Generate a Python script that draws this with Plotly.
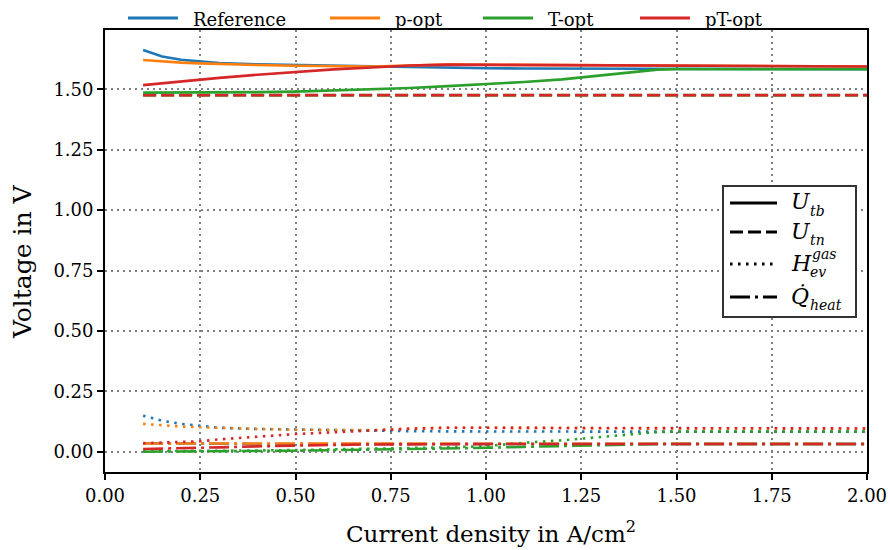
import plotly.graph_objects as go

# ---- data -------------------------------------------------------------
current_density = [0.1, 0.15, 0.2, 0.25, 0.3, 0.4, 0.5, 0.6, 0.7, 0.8,
                   0.9, 1.0, 1.1, 1.2, 1.3, 1.4, 1.45, 1.5, 1.75, 2.0]

cases = ["Reference", "p-opt", "T-opt", "pT-opt"]

U_tb = {
    "Reference": [1.662, 1.635, 1.622, 1.614, 1.608, 1.603, 1.600, 1.596, 1.593, 1.590,
                  1.588, 1.587, 1.586, 1.586, 1.585, 1.585, 1.584, 1.584, 1.583, 1.583],
    "p-opt":     [1.621, 1.614, 1.610, 1.607, 1.604, 1.600, 1.597, 1.595, 1.594, 1.598,
                  1.602, 1.601, 1.600, 1.600, 1.599, 1.599, 1.598, 1.598, 1.596, 1.594],
    "T-opt":     [1.486, 1.486, 1.487, 1.487, 1.487, 1.488, 1.490, 1.494, 1.499, 1.505,
                  1.513, 1.521, 1.530, 1.541, 1.557, 1.574, 1.581, 1.583, 1.583, 1.583],
    "pT-opt":    [1.517, 1.525, 1.533, 1.541, 1.547, 1.560, 1.572, 1.582, 1.590, 1.598,
                  1.602, 1.601, 1.600, 1.600, 1.599, 1.599, 1.598, 1.598, 1.596, 1.594],
}
U_tn = {
    "Reference": [1.476] * 20,
    "p-opt":     [1.476] * 20,
    "T-opt":     [1.475] * 20,
    "pT-opt":    [1.475] * 20,
}
H_ev = {
    "Reference": [0.150, 0.129, 0.116, 0.107, 0.100, 0.095, 0.092, 0.089, 0.087, 0.086,
                  0.085, 0.084, 0.084, 0.084, 0.084, 0.084, 0.084, 0.084, 0.084, 0.084],
    "p-opt":     [0.116, 0.110, 0.105, 0.102, 0.099, 0.095, 0.092, 0.090, 0.090, 0.096,
                  0.100, 0.100, 0.099, 0.098, 0.098, 0.098, 0.098, 0.097, 0.097, 0.097],
    "T-opt":     [0.003, 0.003, 0.004, 0.004, 0.005, 0.006, 0.008, 0.010, 0.012, 0.015,
                  0.019, 0.024, 0.038, 0.048, 0.062, 0.075, 0.082, 0.084, 0.084, 0.084],
    "pT-opt":    [0.036, 0.038, 0.041, 0.044, 0.052, 0.064, 0.074, 0.081, 0.089, 0.096,
                  0.100, 0.100, 0.099, 0.098, 0.098, 0.098, 0.098, 0.097, 0.097, 0.097],
}
Q_heat = {
    "Reference": [0.036, 0.035, 0.035, 0.034, 0.034, 0.033, 0.033, 0.033, 0.033, 0.033,
                  0.033, 0.033, 0.033, 0.033, 0.033, 0.033, 0.033, 0.033, 0.033, 0.033],
    "p-opt":     [0.035, 0.035, 0.034, 0.034, 0.034, 0.033, 0.033, 0.033, 0.033, 0.033,
                  0.033, 0.033, 0.033, 0.033, 0.033, 0.033, 0.033, 0.033, 0.033, 0.033],
    "T-opt":     [0.001, 0.001, 0.002, 0.002, 0.003, 0.004, 0.005, 0.007, 0.009, 0.011,
                  0.014, 0.017, 0.021, 0.025, 0.029, 0.032, 0.033, 0.033, 0.033, 0.033],
    "pT-opt":    [0.012, 0.013, 0.014, 0.016, 0.019, 0.023, 0.027, 0.029, 0.031, 0.032,
                  0.033, 0.033, 0.033, 0.033, 0.033, 0.033, 0.033, 0.033, 0.033, 0.033],
}

x_ticks = [0.0, 0.25, 0.5, 0.75, 1.0, 1.25, 1.5, 1.75, 2.0]
y_ticks = [0.0, 0.25, 0.5, 0.75, 1.0, 1.25, 1.5]
x_title = "Current density in A/cm<sup>2</sup>"
y_title = "Voltage in V"

# ---- style ------------------------------------------------------------
colors = {"Reference": "#1f77b4", "p-opt": "#ff7f0e", "T-opt": "#2ca02c", "pT-opt": "#d62728"}
dashes = {"U_tb": "solid", "U_tn": "13px,5px", "H_ev": "2.5px,5.5px", "Q_heat": "20px,5px,3px,5px"}
series = [("U_tb", U_tb), ("U_tn", U_tn), ("H_ev", H_ev), ("Q_heat", Q_heat)]
FONT = "DejaVu Serif"
LW = 2.6

# plot-area geometry (pixels) used for placing the hand-made legends / titles
L, R, T, B = 105, 867, 30, 472
def px(xp):
    return (xp - L) / (R - L)
def py(yp):
    return (B - yp) / (B - T)

fig = go.Figure()

for case in cases:
    for key, data in series:
        fig.add_trace(go.Scatter(
            x=current_density, y=data[case], mode="lines",
            line=dict(color=colors[case], width=LW, dash=dashes[key]),
            showlegend=False, hoverinfo="skip"))

shapes = []
annotations = []

# axis titles
annotations.append(dict(xref="paper", yref="paper", x=px(491), y=py(532),
                        xanchor="center", yanchor="middle", showarrow=False,
                        text=x_title, font=dict(family=FONT, size=23, color="black")))
annotations.append(dict(xref="paper", yref="paper", x=px(22), y=py(262),
                        xanchor="center", yanchor="middle", showarrow=False, textangle=-90,
                        text=y_title, font=dict(family=FONT, size=25, color="black")))

# colour legend above the axes
top_line_x = [128, 330, 483, 640]
for case, x0 in zip(cases, top_line_x):
    shapes.append(dict(type="line", xref="paper", yref="paper",
                       x0=px(x0), x1=px(x0 + 50), y0=py(18), y1=py(18),
                       line=dict(color=colors[case], width=3)))
    annotations.append(dict(xref="paper", yref="paper", x=px(x0 + 63), y=py(19),
                            xanchor="left", yanchor="middle", showarrow=False,
                            text=case, font=dict(family=FONT, size=18, color="black")))

# line-style legend box
shapes.append(dict(type="rect", xref="paper", yref="paper",
                   x0=px(723), x1=px(856), y0=py(186), y1=py(317),
                   fillcolor="white", line=dict(color="#333333", width=2), layer="above"))
rows = [("U_tb", 203, "U", "tb", None),
        ("U_tn", 232, "U", "tn", None),
        ("H_ev", 264, "H", "ev", "gas"),
        ("Q_heat", 297, "Q̇", "heat", None)]
for key, yrow, main, sub, sup in rows:
    shapes.append(dict(type="line", xref="paper", yref="paper",
                       x0=px(730), x1=px(777), y0=py(yrow), y1=py(yrow),
                       line=dict(color="black", width=3, dash=dashes[key]), layer="above"))
    annotations.append(dict(xref="paper", yref="paper", x=px(790), y=py(yrow - 1),
                            xanchor="left", yanchor="middle", showarrow=False,
                            text=f"<i>{main}</i>", borderpad=0,
                            font=dict(family=FONT, size=22, color="black")))
    annotations.append(dict(xref="paper", yref="paper", x=px(809), y=py(yrow + 8),
                            xanchor="left", yanchor="middle", showarrow=False,
                            text=f"<i>{sub}</i>", borderpad=0,
                            font=dict(family=FONT, size=14, color="black")))
    if sup:
        annotations.append(dict(xref="paper", yref="paper", x=px(811), y=py(yrow - 10),
                                xanchor="left", yanchor="middle", showarrow=False,
                                text=f"<i>{sup}</i>", borderpad=0,
                                font=dict(family=FONT, size=14, color="black")))

axis_common = dict(
    showline=True, linecolor="black", linewidth=1.8, mirror=True,
    ticks="outside", ticklen=6, tickwidth=1.5, tickcolor="black",
    showgrid=True, gridcolor="#808080", gridwidth=1.6, griddash="2px,4px",
    zeroline=False, tickfont=dict(family=FONT, size=18, color="black"),
)

fig.update_layout(
    width=890, height=550,
    margin=dict(l=L, r=890 - R, t=T, b=550 - B, autoexpand=False),
    paper_bgcolor="white", plot_bgcolor="white",
    font=dict(family=FONT, size=18, color="black"),
    showlegend=False,
    xaxis=dict(range=[0, 2.0], tickvals=x_ticks, ticktext=[f"{v:.2f}" for v in x_ticks],
               **axis_common),
    yaxis=dict(range=[-0.083, 1.745], tickvals=y_ticks, ticktext=[f"{v:.2f}" for v in y_ticks],
               **axis_common),
    shapes=shapes,
    annotations=annotations,
)

fig.write_html("out.html")
